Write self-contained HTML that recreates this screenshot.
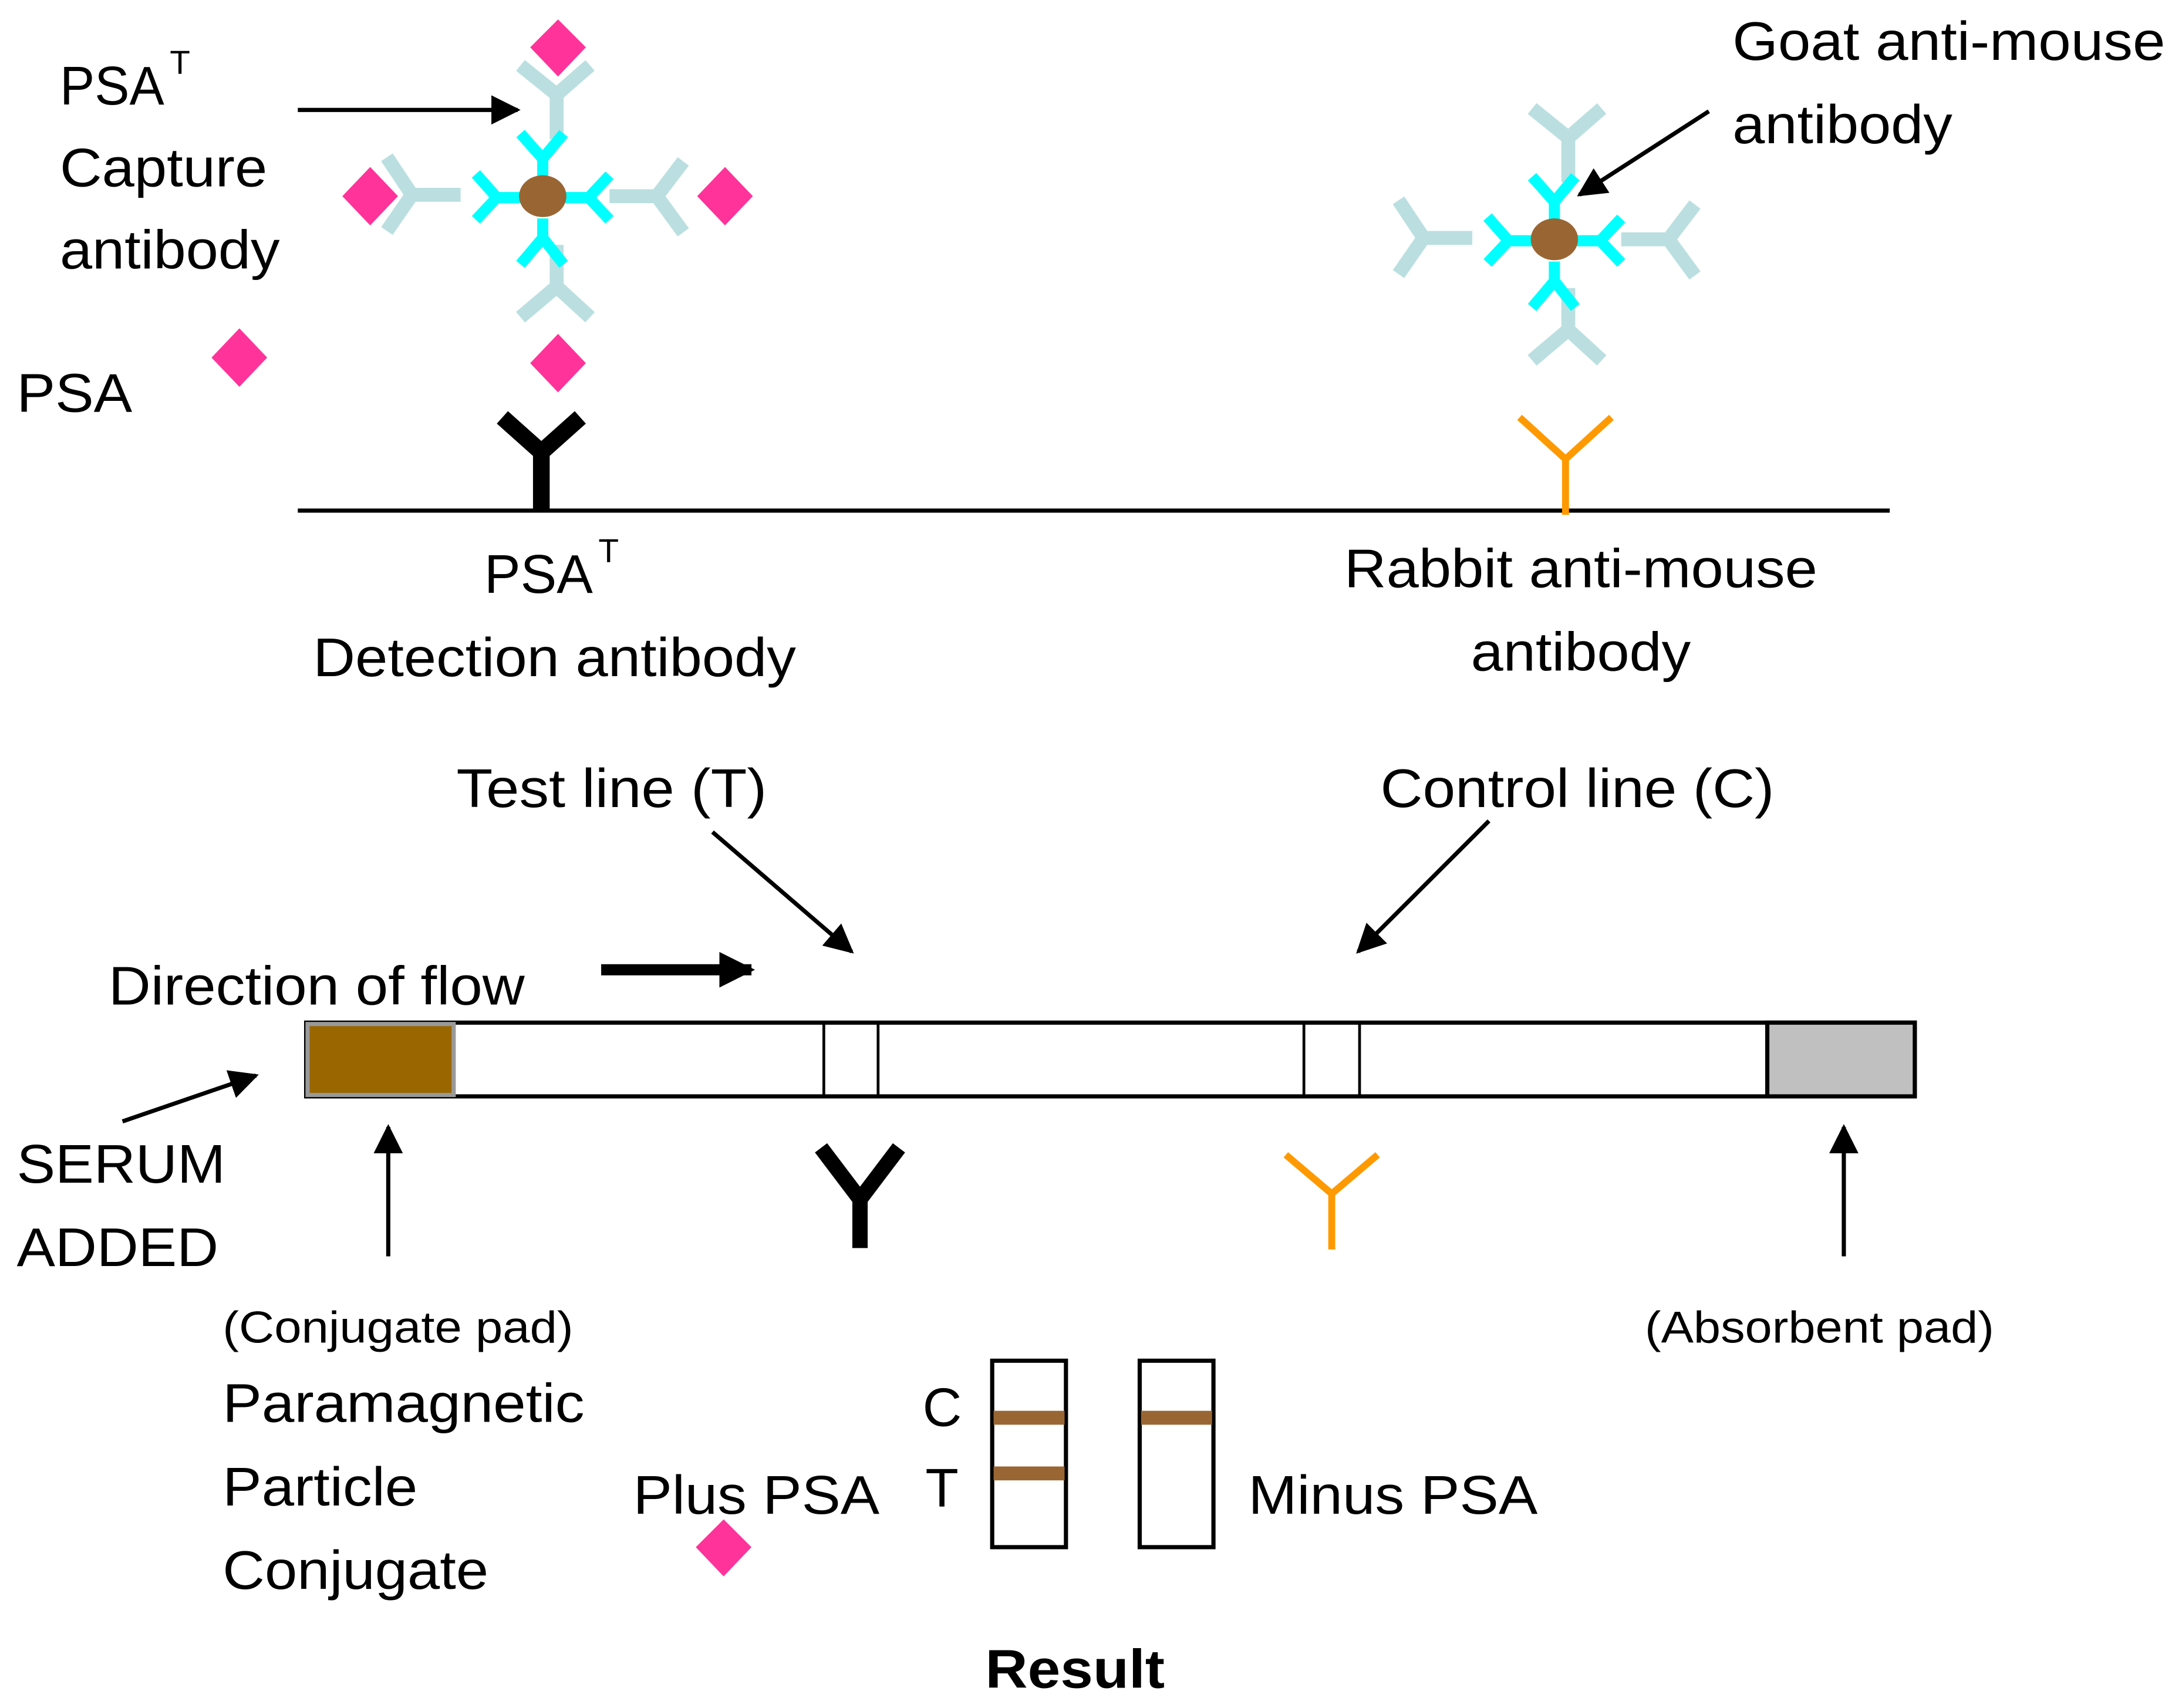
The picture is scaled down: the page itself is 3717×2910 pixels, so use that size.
<!DOCTYPE html>
<html><head><meta charset="utf-8"><style>html,body{margin:0;padding:0;background:#fff}svg{display:block}</style></head>
<body>
<svg width="3717" height="2910" viewBox="0 0 1568 1227.6" xmlns="http://www.w3.org/2000/svg" font-family="Liberation Sans, Arial, sans-serif">
<defs>
<marker id="ah" viewBox="0 0 10 10" refX="9" refY="5" markerWidth="7" markerHeight="7" orient="auto" markerUnits="strokeWidth"><path d="M0,0L10,5L0,10z" fill="#000"/></marker>
<marker id="ah2" viewBox="0 0 10 10" refX="9" refY="5" markerWidth="3.8" markerHeight="3.2" orient="auto" markerUnits="strokeWidth"><path d="M0,0L10,5L0,10z" fill="#000"/></marker>
<g id="cluster">
 <g stroke="#bbdfe0" stroke-width="10" fill="none">
  <path d="M400,100V66M374,47L400,68L424,47"/>
  <path d="M400,176V206M374,228L400,206L424,228"/>
  <path d="M331,140H296M278,113L296,140L278,166"/>
  <path d="M438,141H472M491,116L472,141L491,167"/>
 </g>
 <g stroke="#00ffff" stroke-width="8" fill="none">
  <path d="M390,128V112M374,96L390,114L405,96"/>
  <path d="M390,157V172M374,190L390,171L405,190"/>
  <path d="M374,142H356M342,125L357,142L342,158"/>
  <path d="M406,142H423M438,126L423,142L438,158"/>
 </g>
 <ellipse cx="390" cy="141" rx="17" ry="15" fill="#996633"/>
</g>
</defs>
<rect width="1568" height="1228" fill="#fff"/>

<g fill="#ff3399">
 <path d="M401,14L421,34L401,55L381,34z"/>
 <path d="M266,120L286,141L266,162L246,141z"/>
 <path d="M521,120L541,141L521,162L501,141z"/>
 <path d="M401,240L421,261L401,282L381,261z"/>
 <path d="M172,236L192,257L172,278L152,257z"/>
 <path d="M520,1092L540,1112L520,1133L500,1112z"/>
</g>
<use href="#cluster"/>
<use href="#cluster" transform="translate(727,31)"/>

<line x1="214" y1="79" x2="372" y2="79" stroke="#000" stroke-width="3" marker-end="url(#ah)"/>
<line x1="1228" y1="80" x2="1135" y2="140" stroke="#000" stroke-width="3" marker-end="url(#ah)"/>

<line x1="214" y1="367" x2="1358" y2="367" stroke="#000" stroke-width="3"/>
<path d="M389,367V325M361,300L389,325L417,300" stroke="#000" stroke-width="12" fill="none"/>
<path d="M1125,370V328M1092,300L1125,330L1158,300" stroke="#ff9900" stroke-width="5" fill="none"/>

<g font-size="39" fill="#000">
 <text x="43" y="75"><tspan textLength="75" lengthAdjust="spacingAndGlyphs">PSA</tspan><tspan font-size="24" dy="-22" dx="4">T</tspan></text>
 <text x="43" y="134" textLength="149" lengthAdjust="spacingAndGlyphs">Capture</text>
 <text x="43" y="193" textLength="158" lengthAdjust="spacingAndGlyphs">antibody</text>
 <text x="12" y="296" textLength="83" lengthAdjust="spacingAndGlyphs">PSA</text>
 <text x="348" y="426"><tspan textLength="78" lengthAdjust="spacingAndGlyphs">PSA</tspan><tspan font-size="24" dy="-22" dx="4">T</tspan></text>
 <text x="225" y="486" textLength="347" lengthAdjust="spacingAndGlyphs">Detection antibody</text>
 <text x="966" y="422" textLength="340" lengthAdjust="spacingAndGlyphs">Rabbit anti-mouse</text>
 <text x="1057" y="482" textLength="158" lengthAdjust="spacingAndGlyphs">antibody</text>
 <text x="1245" y="43" textLength="311" lengthAdjust="spacingAndGlyphs">Goat anti-mouse</text>
 <text x="1245" y="103" textLength="158" lengthAdjust="spacingAndGlyphs">antibody</text>
 <text x="328" y="580" textLength="223" lengthAdjust="spacingAndGlyphs">Test line (T)</text>
 <text x="992" y="580" textLength="283" lengthAdjust="spacingAndGlyphs">Control line (C)</text>
 <text x="78" y="722" textLength="299" lengthAdjust="spacingAndGlyphs">Direction of flow</text>
 <text x="12" y="850" textLength="150" lengthAdjust="spacingAndGlyphs">SERUM</text>
 <text x="12" y="910" textLength="145" lengthAdjust="spacingAndGlyphs">ADDED</text>
 <text x="160" y="1022" textLength="260" lengthAdjust="spacingAndGlyphs">Paramagnetic</text>
 <text x="160" y="1082" textLength="140" lengthAdjust="spacingAndGlyphs">Particle</text>
 <text x="160" y="1142" textLength="191" lengthAdjust="spacingAndGlyphs">Conjugate</text>
 <text x="455" y="1088" textLength="177" lengthAdjust="spacingAndGlyphs">Plus PSA</text>
 <text x="663" y="1025">C</text>
 <text x="665" y="1083">T</text>
 <text x="897" y="1088" textLength="208" lengthAdjust="spacingAndGlyphs">Minus PSA</text>
 <text x="708" y="1213" font-weight="bold" textLength="129" lengthAdjust="spacingAndGlyphs">Result</text>
</g>
<g font-size="32" fill="#000">
 <text x="160" y="965" textLength="252" lengthAdjust="spacingAndGlyphs">(Conjugate pad)</text>
 <text x="1182" y="965" textLength="251" lengthAdjust="spacingAndGlyphs">(Absorbent pad)</text>
</g>

<line x1="512" y1="598" x2="612" y2="684" stroke="#000" stroke-width="3" marker-end="url(#ah)"/>
<line x1="1070" y1="590" x2="976" y2="684" stroke="#000" stroke-width="3" marker-end="url(#ah)"/>
<line x1="432" y1="697" x2="540" y2="697" stroke="#000" stroke-width="8" marker-end="url(#ah2)"/>
<line x1="88" y1="806" x2="184" y2="773" stroke="#000" stroke-width="3" marker-end="url(#ah)"/>
<line x1="279" y1="903" x2="279" y2="810" stroke="#000" stroke-width="3" marker-end="url(#ah)"/>
<line x1="1325" y1="903" x2="1325" y2="810" stroke="#000" stroke-width="3" marker-end="url(#ah)"/>

<rect x="220" y="735" width="1156" height="53" fill="#fff" stroke="#000" stroke-width="3"/>
<rect x="221" y="736" width="105" height="51" fill="#996600" stroke="#999" stroke-width="3"/>
<rect x="1270" y="735" width="106" height="53" fill="#c0c0c0" stroke="#000" stroke-width="3"/>
<g stroke="#000" stroke-width="2">
 <line x1="592" y1="735" x2="592" y2="788"/><line x1="631" y1="735" x2="631" y2="788"/>
 <line x1="937" y1="735" x2="937" y2="788"/><line x1="977" y1="735" x2="977" y2="788"/>
</g>
<path d="M618,897V858M590,825L618,862L646,825" stroke="#000" stroke-width="11" fill="none"/>
<path d="M957,898V858M924,830L957,858L990,830" stroke="#ff9900" stroke-width="5" fill="none"/>

<rect x="713" y="978" width="53" height="134" fill="#fff" stroke="#000" stroke-width="3"/>
<rect x="819" y="978" width="53" height="134" fill="#fff" stroke="#000" stroke-width="3"/>
<rect x="714" y="1014" width="51" height="10" fill="#996633"/>
<rect x="714" y="1054" width="51" height="10" fill="#996633"/>
<rect x="820" y="1014" width="51" height="10" fill="#996633"/>
</svg>
</body></html>
